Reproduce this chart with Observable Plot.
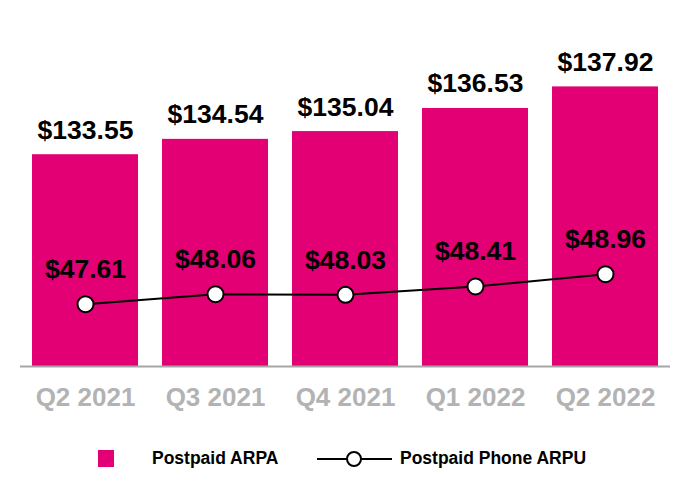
<!DOCTYPE html>
<html>
<head>
<meta charset="utf-8">
<script src="https://cdn.jsdelivr.net/npm/d3@7"></script>
<script src="https://cdn.jsdelivr.net/npm/@observablehq/plot@0.6"></script>
<style>
  body { margin: 0; background: #fff; font-family: "Liberation Sans", Arial, sans-serif; }
  #wrap { width: 690px; }
  .legend { position: relative; width: 690px; height: 75px; }
  .legend .sq { position: absolute; left: 98px; top: 25px; width: 16px; height: 17px; background: #E20074; }
  .legend .t { position: absolute; top: 22px; font-size: 17.5px; font-weight: bold; color: #000; line-height: 22px; white-space: nowrap; }
  .legend svg { position: absolute; left: 315px; top: 23px; }
</style>
</head>
<body>
<div id="wrap"></div>
<script>
const quarters = ["Q2 2021", "Q3 2021", "Q4 2021", "Q1 2022", "Q2 2022"];
const arpa = [133.55, 134.54, 135.04, 136.53, 137.92];
const phoneArpu = [47.61, 48.06, 48.03, 48.41, 48.96];

const barDomain = [119.9, 142.2];
const lineDomain = [44.8, 60.4];
const lineToBar = d3.scaleLinear(lineDomain, barDomain);

const data = quarters.map((q, i) => ({q, arpa: arpa[i], arpu: phoneArpu[i], arpuY: lineToBar(phoneArpu[i])}));
const fmt = v => "$" + v.toFixed(2);
const font = "Liberation Sans, Arial, sans-serif";

const chart = Plot.plot({
  width: 690,
  height: 425,
  marginLeft: 20,
  marginRight: 20,
  marginTop: 20,
  marginBottom: 59,
  style: {fontFamily: font, background: "#fff"},
  x: {domain: quarters, paddingInner: 0.185, paddingOuter: 0.0925, label: null},
  y: {domain: barDomain, axis: null},
  marks: [
    Plot.barY(data, {x: "q", y1: barDomain[0], y2: "arpa", fill: "#E20074"}),
    Plot.ruleY([barDomain[0]], {stroke: "#A6A6A6", strokeWidth: 2}),
    Plot.text(data, {x: "q", y: "arpa", text: d => fmt(d.arpa), lineAnchor: "bottom", dy: -16, fontSize: 26.5, fontWeight: "bold", fill: "#000"}),
    Plot.line(data, {x: "q", y: "arpuY", stroke: "#000", strokeWidth: 2}),
    Plot.dot(data, {x: "q", y: "arpuY", r: 8, fill: "#fff", stroke: "#000", strokeWidth: 2}),
    Plot.text(data, {x: "q", y: "arpuY", text: d => fmt(d.arpu), lineAnchor: "bottom", dy: -26, fontSize: 26.5, fontWeight: "bold", fill: "#000"}),
    Plot.axisX({tickSize: 0, tickPadding: 21, fontSize: 26, fontWeight: "bold", fill: "#B3B3B3", label: null})
  ]
});
document.getElementById("wrap").appendChild(chart);

const legend = document.createElement("div");
legend.className = "legend";
legend.innerHTML = `
  <div class="sq"></div>
  <div class="t" style="left:152px">Postpaid ARPA</div>
  <svg width="80" height="22"><line x1="2" y1="11" x2="77" y2="11" stroke="#000" stroke-width="2"/><circle cx="39" cy="11" r="7" fill="#fff" stroke="#000" stroke-width="2"/></svg>
  <div class="t" style="left:400px">Postpaid Phone ARPU</div>`;
document.getElementById("wrap").appendChild(legend);
</script>
</body>
</html>
